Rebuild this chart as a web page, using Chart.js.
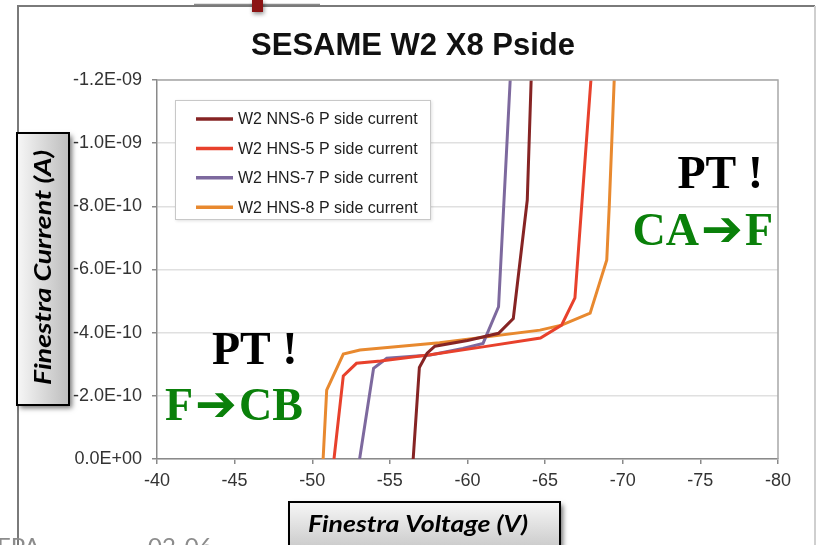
<!DOCTYPE html>
<html>
<head>
<meta charset="utf-8">
<title>SESAME W2 X8 Pside</title>
<script src="https://cdn.jsdelivr.net/npm/chart.js@4.4.1/dist/chart.umd.min.js"></script>
<style>
  html, body { margin: 0; padding: 0; background: #ffffff; }
  #wrap { position: relative; width: 825px; height: 545px; overflow: hidden; }
  canvas { display: block; }
</style>
</head>
<body>
<div id="wrap"><canvas id="chart" width="825" height="545"></canvas></div>
<script>
// ---- data: Finestra voltage (V) and current (A) per device ----
const seriesLabels = [
  'W2 NNS-6 P side current',
  'W2 HNS-5 P side current',
  'W2 HNS-7 P side current',
  'W2 HNS-8 P side current'
];
const seriesColors = ['#862424', '#e8412c', '#7d699e', '#e8892f'];

const voltageNNS6 = [-56.5, -56.9, -57.4, -57.9, -60.0, -62.0, -62.95, -63.85, -64.1];
const currentNNS6 = [0, -2.9e-10, -3.35e-10, -3.57e-10, -3.75e-10, -3.98e-10, -4.45e-10, -8.2e-10, -1.2e-9];

const voltageHNS5 = [-51.4, -52.0, -52.85, -54.4, -57.6, -61.0, -64.7, -66.06, -66.92, -67.95];
const currentHNS5 = [0, -2.63e-10, -3.03e-10, -3.1e-10, -3.3e-10, -3.55e-10, -3.83e-10, -4.24e-10, -5.1e-10, -1.2e-9];

const voltageHNS7 = [-53.05, -53.95, -54.8, -57.6, -59.7, -61.0, -62.0, -62.75];
const currentHNS7 = [0, -2.87e-10, -3.19e-10, -3.29e-10, -3.5e-10, -3.66e-10, -4.82e-10, -1.2e-9];

const voltageHNS8 = [-50.7, -50.93, -52.0, -53.07, -58.2, -64.67, -66.06, -67.9, -68.97, -69.13, -69.45];
const currentHNS8 = [0, -2.18e-10, -3.32e-10, -3.45e-10, -3.68e-10, -4.08e-10, -4.24e-10, -4.62e-10, -6.3e-10, -8.0e-10, -1.2e-9];

const voltageSeries = [voltageNNS6, voltageHNS5, voltageHNS7, voltageHNS8];
const currentSeries = [currentNNS6, currentHNS5, currentHNS7, currentHNS8];

// axis ranges
const xMin = -80, xMax = -40, xStep = 5;
const yMin = -1.2e-9, yMax = 0, yStep = 2e-10;

const chartTitle = 'SESAME W2 X8 Pside';
const yTitle = 'Finestra Current (A)';
const xTitle = 'Finestra Voltage (V)';

// Excel-like 0.0E+00 number format
function sci(v) {
  if (Math.abs(v) < 1e-15) return '0.0E+00';
  const parts = v.toExponential(1).split('e');
  const exp = parseInt(parts[1], 10);
  return parts[0] + 'E' + (exp < 0 ? '-' : '+') + String(Math.abs(exp)).padStart(2, '0');
}

const datasets = seriesLabels.map((label, i) => ({
  label: label,
  data: voltageSeries[i].map((v, k) => ({ x: v, y: currentSeries[i][k] })),
  borderColor: seriesColors[i],
  backgroundColor: seriesColors[i],
  borderWidth: 3,
  pointRadius: 0,
  showLine: true,
  tension: 0,
  fill: false
}));

// text squeezed/stretched horizontally to a given run length
function fitText(c, text, x, y, width) {
  const w = c.measureText(text).width;
  c.save();
  c.translate(x, y);
  c.scale(width / w, 1);
  c.fillText(text, 0, 0);
  c.restore();
}

// callout like "CA ➔ F": serif letters with a heavy arrow between them
function callout(c, left, right, x, y, alignRight) {
  const serif = 'bold 46px "Liberation Serif", "Times New Roman", serif';
  const arrowFont = 'bold 50px "DejaVu Sans", sans-serif';
  c.font = serif;
  const wl = c.measureText(left).width;
  const wr = c.measureText(right).width;
  c.font = arrowFont;
  const wa = c.measureText('\u2794').width;
  const total = wl + wa + wr + 4;
  let x0 = alignRight ? x - total : x;
  c.textAlign = 'left';
  c.font = serif;
  c.fillText(left, x0, y);
  c.font = arrowFont;
  c.fillText('\u2794', x0 + wl + 2, y + 1);
  c.font = serif;
  c.fillText(right, x0 + wl + wa + 4, y);
}

// slide frame, title, plot border, axis-title boxes and callouts
const decorations = {
  id: 'decorations',
  beforeDraw(chart) {
    const c = chart.ctx;
    c.save();
    c.fillStyle = '#ffffff';
    c.fillRect(0, 0, chart.width, chart.height);
    // slide header accents
    c.strokeStyle = '#8a8a8a';
    c.lineWidth = 1.5;
    c.beginPath(); c.moveTo(194, 4.5); c.lineTo(320, 4.5); c.stroke();
    // chart object frame
    c.strokeStyle = '#7a7a7a';
    c.lineWidth = 2;
    c.beginPath(); c.moveTo(18, 560); c.lineTo(18, 6); c.lineTo(815, 6); c.stroke();
    c.strokeStyle = '#cfcfcf';
    c.beginPath(); c.moveTo(815, 6); c.lineTo(815, 560); c.stroke();
    c.shadowColor = 'rgba(0,0,0,0.45)';
    c.shadowBlur = 4; c.shadowOffsetX = 1; c.shadowOffsetY = 2;
    c.fillStyle = '#8c1414';
    c.fillRect(252, 0, 11, 12);
    c.restore();

    // title
    c.save();
    c.fillStyle = '#111111';
    c.font = 'bold 31px "Liberation Sans", Arial, sans-serif';
    c.textAlign = 'center';
    c.textBaseline = 'alphabetic';
    c.fillText(chartTitle, 413, 55);
    c.restore();
  },
  afterDraw(chart) {
    const c = chart.ctx;
    const a = chart.chartArea;
    // plot area outline (top/right)
    c.save();
    c.strokeStyle = '#a8a8a8';
    c.lineWidth = 1.5;
    c.beginPath(); c.moveTo(a.left, a.top); c.lineTo(a.right, a.top); c.lineTo(a.right, a.bottom); c.stroke();
    c.restore();

    // legend inside plot
    c.save();
    c.shadowColor = 'rgba(0,0,0,0.12)';
    c.shadowBlur = 3; c.shadowOffsetX = 1; c.shadowOffsetY = 1;
    c.fillStyle = '#ffffff';
    c.fillRect(175, 100, 256, 120);
    c.shadowColor = 'transparent';
    c.strokeStyle = '#c8c8c8';
    c.lineWidth = 1;
    c.strokeRect(175.5, 100.5, 255, 119);
    c.font = '16px "Liberation Sans", Arial, sans-serif';
    c.textBaseline = 'middle';
    c.textAlign = 'left';
    chart.data.datasets.forEach((ds, i) => {
      const y = 119 + i * 29.4;
      c.strokeStyle = ds.borderColor;
      c.lineWidth = 3.5;
      c.beginPath(); c.moveTo(196, y); c.lineTo(233, y); c.stroke();
      c.fillStyle = '#1e1e1e';
      c.fillText(ds.label, 238, y + 1);
    });
    c.restore();

    // axis title boxes
    function box(x, y, w, h, vertical) {
      c.save();
      c.shadowColor = 'rgba(0,0,0,0.55)';
      c.shadowBlur = 5; c.shadowOffsetX = 3; c.shadowOffsetY = 3;
      const g = vertical ? c.createLinearGradient(x, 0, x + w, 0) : c.createLinearGradient(0, y, 0, y + h);
      g.addColorStop(0, '#f7f7f7');
      g.addColorStop(1, '#bdbdbd');
      c.fillStyle = g;
      c.fillRect(x, y, w, h);
      c.shadowColor = 'transparent';
      c.strokeStyle = '#000000';
      c.lineWidth = 2;
      c.strokeRect(x, y, w, h);
      c.restore();
    }
    box(17, 133, 52, 272, true);
    box(289, 502, 271, 60, false);
    c.save();
    c.fillStyle = '#000000';
    c.font = 'italic bold 23px Lato, "Open Sans", sans-serif';
    c.textAlign = 'left';
    c.textBaseline = 'alphabetic';
    c.translate(51, 385);
    c.rotate(-Math.PI / 2);
    fitText(c, yTitle, 0, 0, 235);
    c.restore();
    c.save();
    c.fillStyle = '#000000';
    c.font = 'italic bold 23px Lato, "Open Sans", sans-serif';
    c.textAlign = 'left';
    c.textBaseline = 'alphabetic';
    fitText(c, xTitle, 308, 532, 220);
    c.restore();

    // phase transition callouts
    c.save();
    c.textBaseline = 'alphabetic';
    c.font = 'bold 46px "Liberation Serif", "Times New Roman", serif';
    c.fillStyle = '#000000';
    c.textAlign = 'right';
    c.fillText('PT !', 763, 188);
    c.textAlign = 'left';
    c.fillText('PT !', 212, 364);
    c.fillStyle = '#0a800a';
    callout(c, 'CA', 'F', 773, 245, true);
    callout(c, 'F', 'CB', 165, 420, false);
    c.restore();

    // slide footer (cut by page edge)
    c.save();
    c.fillStyle = '#8c8c8c';
    c.font = '24px Lato, "Open Sans", sans-serif';
    c.textBaseline = 'alphabetic';
    c.fillText('EPA', -3, 555);
    c.fillText('02-06', 148, 555);
    c.restore();
  }
};

new Chart(document.getElementById('chart'), {
  type: 'scatter',
  data: { datasets: datasets },
  options: {
    responsive: false,
    animation: false,
    layout: { padding: { top: 80, right: 47, left: 0, bottom: 0 } },
    plugins: {
      legend: { display: false },
      title: { display: false },
      tooltip: { enabled: false }
    },
    scales: {
      x: {
        type: 'linear',
        min: xMin, max: xMax, reverse: true,
        ticks: {
          stepSize: xStep,
          color: '#333333',
          padding: 6,
          font: { family: '"Liberation Sans", Arial, sans-serif', size: 18 },
          callback: v => String(v)
        },
        grid: { drawOnChartArea: false, color: '#8a8a8a', tickColor: '#8a8a8a', tickLength: 5, lineWidth: 1.5 },
        border: { color: '#8a8a8a', width: 1.5 },
        afterFit(scale) { scale.height = 86; }
      },
      y: {
        type: 'linear',
        min: yMin, max: yMax, reverse: true,
        ticks: {
          stepSize: yStep,
          color: '#333333',
          padding: 10,
          font: { family: '"Liberation Sans", Arial, sans-serif', size: 18 },
          callback: v => sci(v)
        },
        grid: { color: '#e0e0e0', tickColor: '#8a8a8a', tickLength: 5, lineWidth: 1.5 },
        border: { color: '#8a8a8a', width: 1.5 },
        afterFit(scale) { scale.width = 157; }
      }
    }
  },
  plugins: [decorations]
});
</script>
</body>
</html>
